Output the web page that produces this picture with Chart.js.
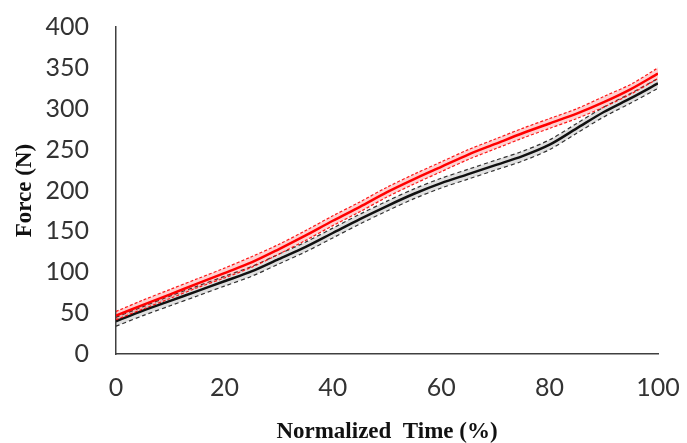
<!DOCTYPE html>
<html>
<head>
<meta charset="utf-8">
<script src="https://cdn.jsdelivr.net/npm/chart.js@4/dist/chart.umd.min.js"></script>
<style>
  html, body { margin: 0; padding: 0; background: #ffffff; }
  #wrap { width: 687px; height: 443px; }
</style>
</head>
<body>
<div id="wrap"><canvas id="c" width="687" height="443"></canvas></div>
<script>
// Normalized time (%)
const time = [0,5,10,15,20,25,30,35,40,45,50,55,60,65,70,75,80,85,90,95,100];
// Red group: mean and ±SD (N)
const redMean  = [47,60,73,86,99,112,128,145,163,180,198,214,229,244,257,270,282,294,308,324,343];
const redUpper = [52,66,79,92,105,119,134,151,169,186,204,220,235,250,263,276,288,300,315,330,350];
const redLower = [42,55,68,81,93,106,122,139,157,174,192,208,223,238,251,264,276,288,302,318,337];
// Black group: mean and ±SD (N)
const blackMean  = [40,53,65,77,89,101,116,131,148,165,181,196,209,220,231,242,256,276,296,313,331];
const blackUpper = [45,58,71,83,95,107,122,137,154,171,187,202,215,226,237,248,262,282,302,319,337];
const blackLower = [34,47,59,71,83,95,110,125,142,159,175,190,203,214,225,236,250,270,290,307,325];
// Axis ticks
const xTicks = [0,20,40,60,80,100];
const yTicks = [0,50,100,150,200,250,300,350,400];
const xTitle = 'Normalized  Time (%)';
const yTitle = 'Force (N)';

const pts = arr => arr.map((v, i) => ({ x: time[i], y: v }));

const tickFont = { family: 'Lato', size: 25 };
const titleFont = { family: '"Liberation Serif", "Times New Roman", serif', size: 23, weight: 'bold' };

new Chart(document.getElementById('c'), {
  type: 'line',
  data: {
    datasets: [
      { label: 'Red mean', data: pts(redMean), borderColor: '#ff0000', borderWidth: 2.5, pointRadius: 0, fill: false, tension: 0.3 },
      { label: 'Red +SD', data: pts(redUpper), borderColor: 'rgba(255,0,0,0.9)', borderWidth: 1.2, borderDash: [3, 2], pointRadius: 0, fill: '+1', backgroundColor: 'rgba(255,0,0,0.18)', tension: 0.3 },
      { label: 'Red -SD', data: pts(redLower), borderColor: 'rgba(255,0,0,0.9)', borderWidth: 1.2, borderDash: [3, 2], pointRadius: 0, fill: false, tension: 0.3 },
      { label: 'Black mean', data: pts(blackMean), borderColor: '#111111', borderWidth: 2.5, pointRadius: 0, fill: false, tension: 0.3 },
      { label: 'Black +SD', data: pts(blackUpper), borderColor: 'rgba(30,30,30,0.9)', borderWidth: 1.2, borderDash: [4, 3], pointRadius: 0, fill: '+1', backgroundColor: 'rgba(0,0,0,0.12)', tension: 0.3 },
      { label: 'Black -SD', data: pts(blackLower), borderColor: 'rgba(30,30,30,0.9)', borderWidth: 1.2, borderDash: [4, 3], pointRadius: 0, fill: false, tension: 0.3 }
    ]
  },
  options: {
    responsive: false,
    animation: false,
    events: [],
    layout: { padding: { left: 0, right: 29, top: 27, bottom: 0 } },
    plugins: { legend: { display: false }, tooltip: { enabled: false } },
    scales: {
      x: {
        type: 'linear',
        min: 0, max: 100,
        afterBuildTicks: s => { s.ticks = xTicks.map(v => ({ value: v })); },
        afterFit: s => { s.height = 89; s.paddingLeft = 0; s.paddingRight = 0; },
        grid: { display: true, color: 'rgba(0,0,0,0)', drawTicks: false },
        border: { display: true, color: '#404040', width: 1.5 },
        ticks: { font: tickFont, color: '#333333', padding: 19, maxRotation: 0 },
        title: { display: true, text: xTitle, font: titleFont, color: '#111111', padding: { top: 0, bottom: -3 } }
      },
      y: {
        type: 'linear',
        min: 0, max: 400,
        afterBuildTicks: s => { s.ticks = yTicks.map(v => ({ value: v })); },
        afterFit: s => { s.width = 116; s.paddingTop = 0; s.paddingBottom = 0; },
        grid: { display: true, color: 'rgba(0,0,0,0)', drawTicks: false },
        border: { display: true, color: '#404040', width: 1.5 },
        ticks: { font: tickFont, color: '#333333', padding: 27 },
        title: { display: true, text: yTitle, font: titleFont, color: '#111111', padding: { top: 11, bottom: 0 } }
      }
    }
  }
});
</script>
</body>
</html>
